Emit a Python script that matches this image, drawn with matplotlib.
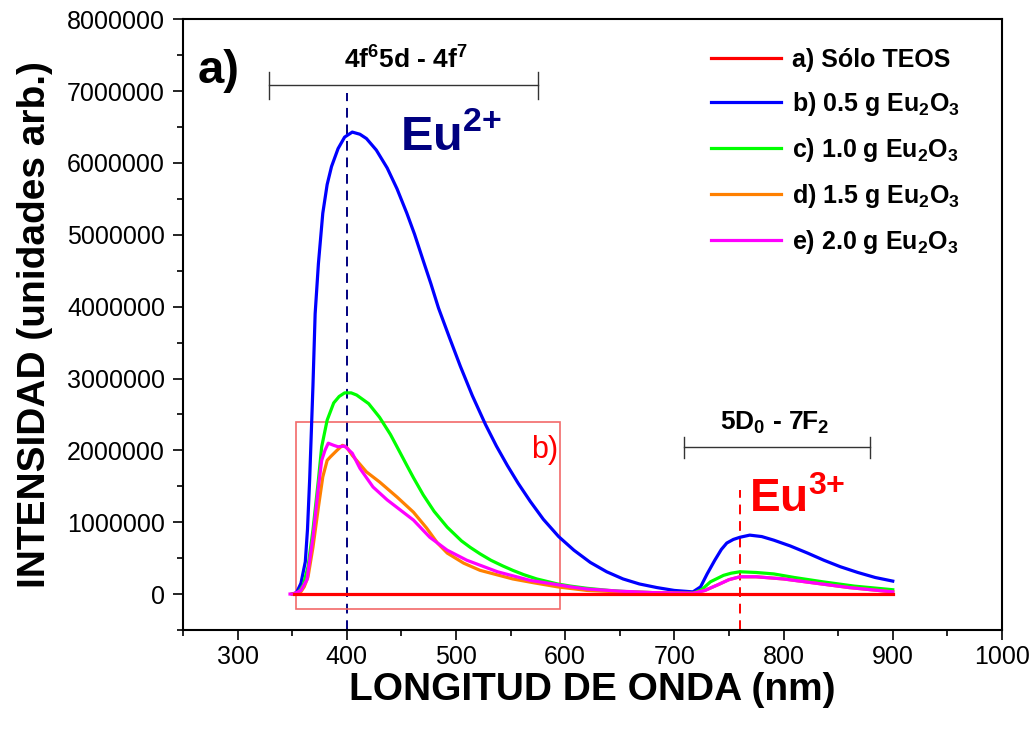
import matplotlib
matplotlib.use("Agg")
import matplotlib.pyplot as plt
from matplotlib.patches import Rectangle
from matplotlib.ticker import MultipleLocator, FuncFormatter

plt.rcParams["font.family"] = ["Liberation Sans", "DejaVu Sans"]
plt.rcParams["mathtext.fontset"] = "custom"
plt.rcParams["mathtext.rm"] = "Liberation Sans:bold"
plt.rcParams["mathtext.bf"] = "Liberation Sans:bold"
plt.rcParams["mathtext.default"] = "rm"

# ---- data (wavelength in nm, intensity in millions) ----
red_nm = [352, 450, 550, 650, 750, 900]
red_val = [0, 0, 0, 0, 0, 0]

blue_nm = [350, 354, 358, 362, 364, 366, 369, 371, 374, 378, 382, 386, 392, 398,
           405, 412, 418, 427, 437, 446, 455, 462, 470, 477, 484, 494, 504, 515,
           527, 537, 547, 557, 568, 580, 594, 608, 623, 638, 653, 668, 684, 700,
           717, 724, 730, 737, 743, 748, 754, 760, 769, 780, 791, 806, 822, 837,
           852, 868, 884, 900]
blue_val = [0, 0.02, 0.15, 0.45, 0.9, 1.6, 2.9, 3.9, 4.6, 5.3, 5.7, 5.95, 6.2, 6.36,
            6.43, 6.40, 6.34, 6.18, 5.93, 5.64, 5.30, 5.01, 4.64, 4.32, 3.98, 3.57, 3.17, 2.76,
            2.36, 2.06, 1.79, 1.54, 1.29, 1.04, 0.80, 0.61, 0.44, 0.31, 0.21, 0.14, 0.09, 0.05,
            0.03, 0.1, 0.28, 0.47, 0.62, 0.71, 0.76, 0.79, 0.82, 0.8, 0.75, 0.67, 0.57, 0.47,
            0.38, 0.3, 0.23, 0.18]

green_nm = [350, 355, 360, 364.5, 369, 374, 377, 382, 388, 393, 398, 404, 409, 420,
            430, 440, 447, 455, 461, 470, 480, 492, 505, 513, 522, 532, 543, 552, 562,
            574, 593, 605, 620, 640, 660, 680, 700, 717, 725, 733, 745, 752, 760, 775,
            791, 810, 836, 865, 900]
green_val = [0, 0.01, 0.12, 0.38, 0.89, 1.59, 2.05, 2.42, 2.66, 2.75, 2.8, 2.8, 2.77, 2.65,
             2.46, 2.22, 2.02, 1.79, 1.62, 1.38, 1.15, 0.93, 0.74, 0.65, 0.56, 0.47, 0.39, 0.33, 0.27,
             0.21, 0.14, 0.11, 0.08, 0.05, 0.03, 0.02, 0.01, 0.01, 0.06, 0.17, 0.26, 0.29, 0.31, 0.3,
             0.28, 0.23, 0.17, 0.11, 0.06]

orange_nm = [350, 357, 361, 364.5, 369, 374, 378, 382, 385, 391, 396, 400, 405, 409,
             418, 430, 446, 461, 473, 483, 492, 507, 522, 537, 552, 570, 593, 620, 650,
             680, 717, 728, 740, 750, 760, 775, 800, 830, 860, 900]
orange_val = [0, 0.01, 0.1, 0.24, 0.65, 1.21, 1.63, 1.86, 1.91, 2.0, 2.07, 2.04, 1.93, 1.86,
              1.7, 1.56, 1.35, 1.14, 0.92, 0.71, 0.57, 0.43, 0.33, 0.27, 0.21, 0.16, 0.1, 0.05, 0.03,
              0.02, 0.01, 0.05, 0.13, 0.2, 0.24, 0.24, 0.21, 0.15, 0.09, 0.03]

magenta_nm = [348, 351, 358, 363.5, 369, 374, 377, 380, 383, 388, 392, 398, 405, 412,
              424, 437, 449, 461, 476, 492, 510, 538, 568, 593, 605, 620, 650, 680, 717,
              728, 740, 750, 760, 775, 800, 830, 860, 900]
magenta_val = [0, 0, 0.05, 0.2, 0.79, 1.49, 1.86, 2.0, 2.1, 2.07, 2.05, 2.06, 1.96, 1.75,
               1.49, 1.31, 1.17, 1.03, 0.79, 0.61, 0.47, 0.31, 0.19, 0.13, 0.1, 0.07, 0.04, 0.02, 0.01,
               0.05, 0.13, 0.2, 0.24, 0.24, 0.21, 0.15, 0.09, 0.03]

labels = ["a) Sólo TEOS", "b) 0.5 g Eu$_2$O$_3$", "c) 1.0 g Eu$_2$O$_3$",
          "d) 1.5 g Eu$_2$O$_3$", "e) 2.0 g Eu$_2$O$_3$"]
colors = ["#ff0000", "#0000ff", "#00ff00", "#ff8000", "#ff00ff"]

series = [(red_nm, red_val), (blue_nm, blue_val), (green_nm, green_val),
          (orange_nm, orange_val), (magenta_nm, magenta_val)]

fig = plt.figure(figsize=(10.34, 7.42), dpi=100)
ax = fig.add_axes([0.177, 0.151, 0.792, 0.823])

# red baseline sits on top of the others
for (nm, val), lab, col in zip(series, labels, colors):
    ax.plot(nm, [v * 1e6 for v in val], color=col, lw=2.3, label=lab,
            zorder=3 if col != "#ff0000" else 4)

# dashed markers for Eu2+ / Eu3+ peaks
ax.plot([400, 400], [-0.5e6, 6.98e6], color="#000080", lw=1.4, ls=(0, (5, 3.5)), zorder=2)
ax.plot([760, 760], [-0.5e6, 1.45e6], color="#ff0000", lw=1.4, ls=(0, (5, 3.5)), zorder=2)

# zoom box b)
ax.add_patch(Rectangle((353.5, -0.21e6), 595.2 - 353.5, 2.40e6 + 0.21e6,
                       fill=False, edgecolor="#f26a6a", lw=1.2, zorder=2))
ax.text(594, 1.89e6, "b)", color="#ff0000", fontsize=22, ha="right", va="baseline")

# transition brackets
for x0, x1, yb, h in [(329, 575, 7.08e6, 0.19e6), (709, 879, 2.04e6, 0.15e6)]:
    ax.plot([x0, x1], [yb, yb], color="#333333", lw=1.0)
    ax.plot([x0, x0], [yb - h, yb + h], color="#333333", lw=1.0)
    ax.plot([x1, x1], [yb - h, yb + h], color="#333333", lw=1.0)

ax.text(454, 7.32e6, "4f$^6$5d - 4f$^7$", fontsize=19, fontweight="bold",
        ha="center", va="baseline")
ax.text(792, 2.28e6, "5D$_0$ - 7F$_2$", fontsize=19, fontweight="bold",
        ha="center", va="baseline")
ax.text(449, 6.18e6, "Eu$^{2{+}}$", fontsize=35, fontweight="bold", color="#000080",
        ha="left", va="baseline")
ax.text(768, 1.14e6, "Eu$^{3{+}}$", fontsize=33, fontweight="bold", color="#ff0000",
        ha="left", va="baseline")
ax.text(263, 7.12e6, "a)", fontsize=34, fontweight="bold", ha="left", va="baseline")

ax.set_xlim(250, 1000)
ax.set_ylim(-0.5e6, 8e6)
ax.xaxis.set_major_locator(MultipleLocator(100))
ax.xaxis.set_minor_locator(MultipleLocator(50))
ax.yaxis.set_major_locator(MultipleLocator(1e6))
ax.yaxis.set_minor_locator(MultipleLocator(0.5e6))
ax.yaxis.set_major_formatter(FuncFormatter(lambda v, p: f"{int(round(v))}"))
ax.set_xticks([300, 400, 500, 600, 700, 800, 900, 1000])
ax.set_yticks([0, 1e6, 2e6, 3e6, 4e6, 5e6, 6e6, 7e6, 8e6])

ax.tick_params(which="both", direction="out", top=False, right=False, width=1.2)
ax.tick_params(which="major", length=7, labelsize=18)
ax.tick_params(axis="x", which="major", pad=4)
ax.tick_params(axis="y", which="major", pad=6)
ax.tick_params(which="minor", length=4)
for sp in ax.spines.values():
    sp.set_linewidth(1.5)

ax.set_xlabel("LONGITUD DE ONDA (nm)", fontsize=28, fontweight="bold", labelpad=2)
ax.set_ylabel("INTENSIDAD (unidades arb.)", fontsize=28, fontweight="bold", labelpad=10)

leg = ax.legend(loc="upper left", bbox_to_anchor=(0.645, 0.953), frameon=False,
                fontsize=18, handlelength=2.8, handletextpad=0.45, labelspacing=0.72,
                borderpad=0, borderaxespad=0)
for t in leg.get_texts():
    t.set_fontweight("bold")

fig.savefig("out.png", dpi=100)
